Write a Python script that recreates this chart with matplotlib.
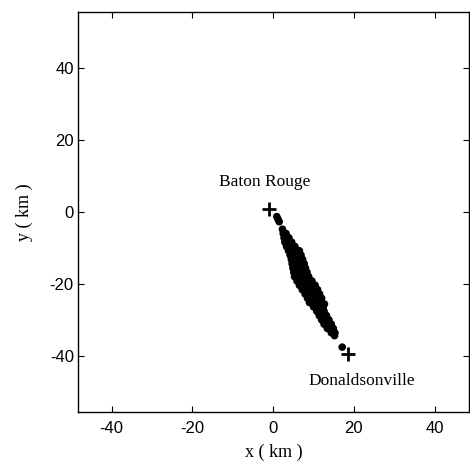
import matplotlib
matplotlib.use('Agg')
import matplotlib.pyplot as plt

# particle positions of the plume (km), row by row from Baton Rouge downwind
plume_x = [0.9, 1.2, 1.5,
           2.3,
           2.5, 3.2,
           2.7, 3.9,
           2.9, 3.8, 4.6,
           3.3, 4.3, 5.4,
           3.8, 4.8, 5.8, 6.5,
           4.2, 5.1, 6.1, 6.9,
           4.5, 5.4, 6.4, 7.3,
           4.7, 5.7, 6.7, 7.7,
           4.9, 5.9, 7.0, 8.0,
           5.1, 6.2, 7.3, 8.4,
           5.3, 6.4, 7.6, 8.8,
           5.9, 7.0, 8.2, 9.6,
           6.5, 7.6, 8.8, 9.9, 10.4,
           7.2, 8.3, 9.5, 10.5, 11.0,
           7.9, 9.0, 10.1, 11.1, 11.5,
           8.5, 9.5, 10.6, 11.6, 12.0,
           9.0, 10.0, 11.1, 12.0, 12.7,
           10.0, 10.9, 11.9, 12.4,
           10.8, 11.7, 12.6,
           11.4, 12.3, 13.2,
           12.0, 12.9, 13.8,
           12.6, 13.5, 14.4,
           13.4, 14.2, 14.9,
           14.4, 15.3,
           15.2,
           17.1]
plume_y = [-1.3, -2.0, -2.7,
           -4.8,
           -6.0, -6.0,
           -7.2, -7.2,
           -8.4, -8.4, -8.4,
           -9.6, -9.6, -9.6,
           -10.8, -10.8, -10.8, -10.8,
           -12.0, -12.0, -12.0, -12.0,
           -13.2, -13.2, -13.2, -13.2,
           -14.4, -14.4, -14.4, -14.4,
           -15.6, -15.6, -15.6, -15.6,
           -16.8, -16.8, -16.8, -16.8,
           -18.0, -18.0, -18.0, -18.0,
           -19.2, -19.2, -19.2, -19.2,
           -20.4, -20.4, -20.4, -20.4, -20.4,
           -21.6, -21.6, -21.6, -21.6, -21.6,
           -22.8, -22.8, -22.8, -22.8, -22.8,
           -24.0, -24.0, -24.0, -24.0, -24.0,
           -25.2, -25.2, -25.2, -25.2, -25.6,
           -26.4, -26.4, -26.4, -26.4,
           -27.6, -27.6, -27.6,
           -28.8, -28.8, -28.8,
           -30.0, -30.0, -30.0,
           -31.2, -31.2, -31.2,
           -32.4, -32.4, -32.4,
           -33.6, -33.6,
           -34.4,
           -37.6]

towns = ['Baton Rouge', 'Donaldsonville']
town_x = [-1.0, 18.6]
town_y = [0.8, -39.5]

xticks = [-40, -20, 0, 20, 40]
yticks = [-40, -20, 0, 20, 40]

fig = plt.figure(figsize=(4.7, 4.7), dpi=100)
ax = fig.add_axes([0.166, 0.123, 0.832, 0.852])

ax.scatter(plume_x, plume_y, s=30, c='black', edgecolors='none', zorder=2)
ax.plot(town_x, town_y, '+', color='black', markersize=10, mew=2, zorder=3)

ax.text(-2.0, 8.4, towns[0], family='Liberation Serif', fontsize=12.5,
        ha='center', va='center')
ax.text(22.0, -47.0, towns[1], family='Liberation Serif', fontsize=12.5,
        ha='center', va='center')

ax.set_xlim(-48.3, 48.5)
ax.set_ylim(-55.7, 55.7)
ax.set_xticks(xticks)
ax.set_yticks(yticks)
ax.set_xticklabels([str(t) for t in xticks], family='Liberation Sans', fontsize=12)
ax.set_yticklabels([str(t) for t in yticks], family='Liberation Sans', fontsize=12)
ax.tick_params(direction='in', length=4, width=0.8, top=True, right=True)
ax.tick_params(axis='x', pad=6)
ax.tick_params(axis='y', pad=3)
for sp in ax.spines.values():
    sp.set_linewidth(1.0)

ax.set_xlabel('x ( km )', family='Liberation Serif', fontsize=13, labelpad=6)
ax.set_ylabel('y ( km )', family='Liberation Serif', fontsize=13, labelpad=12)

fig.savefig('out.png', dpi=100)
